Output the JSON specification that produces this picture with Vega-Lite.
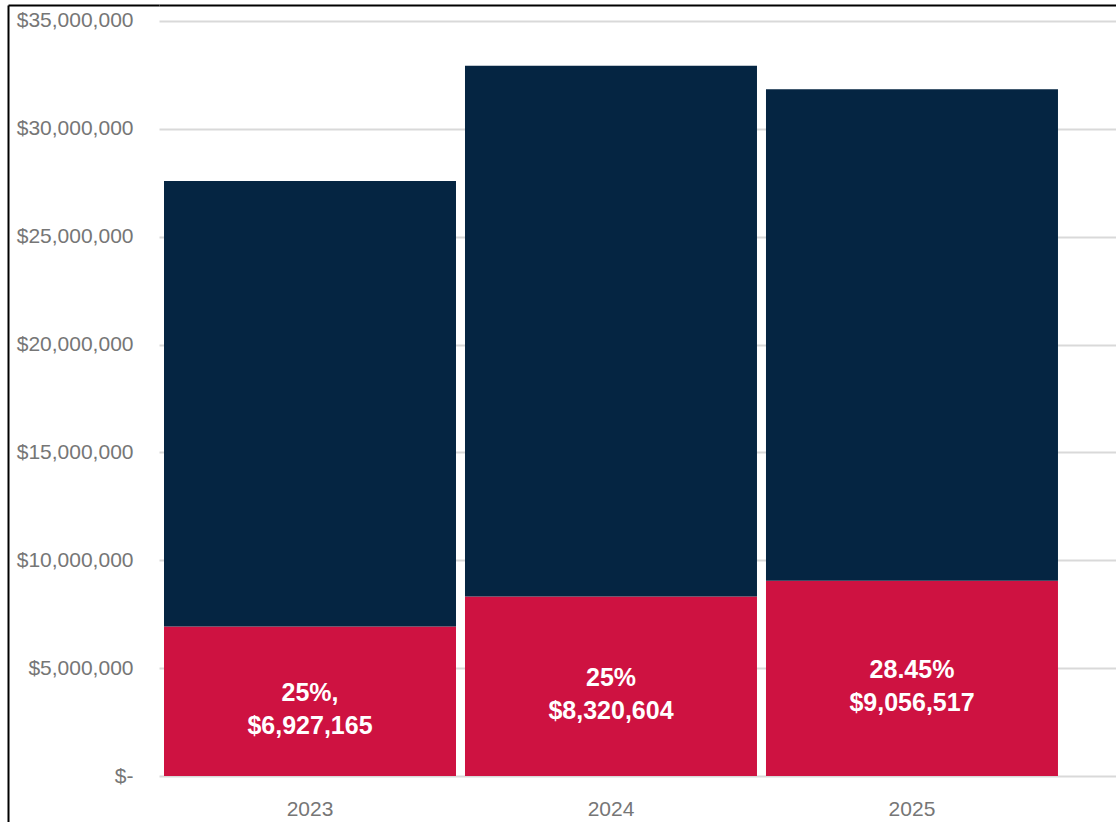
{
  "$schema": "https://vega.github.io/schema/vega-lite/v6.json",
  "width": 957,
  "height": 817,
  "autosize": {"type": "none"},
  "padding": {"left": 159, "top": 5, "right": 0, "bottom": 0},
  "background": "white",
  "config": {"view": {"stroke": null}, "font": "Liberation Sans"},
  "data": {
    "values": [
      {"year": "2023", "segment": "Share", "ord": 1, "value": 6927165, "label": "25%,\n\u00a0\u00a0$6,927,165"},
      {"year": "2023", "segment": "Remainder", "ord": 2, "value": 20652835},
      {"year": "2024", "segment": "Share", "ord": 1, "value": 8320604, "label": "25%\n\u00a0\u00a0\u00a0$8,320,604"},
      {"year": "2024", "segment": "Remainder", "ord": 2, "value": 24609396},
      {"year": "2025", "segment": "Share", "ord": 1, "value": 9056517, "label": "28.45%\n\u00a0\u00a0\u00a0$9,056,517"},
      {"year": "2025", "segment": "Remainder", "ord": 2, "value": 22776483}
    ]
  },
  "resolve": {"axis": {"x": "independent", "y": "independent"}},
  "layer": [
    {
      "mark": {"type": "bar"},
      "encoding": {
        "x": {
          "field": "year", "type": "ordinal",
          "scale": {"type": "band", "paddingInner": 0.0299, "paddingOuter": 0.1047, "align": 0.0794},
          "axis": {"orient": "bottom", "offset": -46, "title": null, "domain": false, "ticks": false, "labelPadding": 22, "labelFontSize": 21, "labelColor": "#767676", "labelAngle": 0, "grid": false}
        },
        "y": {
          "field": "value", "type": "quantitative", "stack": "zero",
          "scale": {"domain": [-2132450, 35741720], "nice": false, "zero": false},
          "axis": {
            "orient": "left", "title": null, "domain": false, "ticks": false, "tickSize": 0,
            "values": [0, 5000000, 10000000, 15000000, 20000000, 25000000, 30000000, 35000000],
            "labelExpr": "datum.value === 0 ? '$-' : '$' + format(datum.value, ',')",
            "labelPadding": 26, "labelFontSize": 21, "labelColor": "#767676", "labelFlush": false,
            "grid": true, "gridColor": "#d9d9d9", "gridWidth": 2
          }
        },
        "color": {
          "field": "segment", "type": "nominal",
          "scale": {"domain": ["Share", "Remainder"], "range": ["#CE1241", "#052542"]},
          "legend": null
        },
        "order": {"field": "ord", "type": "quantitative"}
      }
    },
    {
      "transform": [
        {"filter": "datum.segment === 'Share'"},
        {"calculate": "datum.value / 2", "as": "mid"}
      ],
      "mark": {"type": "text", "color": "white", "fontWeight": "bold", "fontSize": 25, "lineBreak": "\n", "lineHeight": 33, "baseline": "middle", "align": "center", "dy": -8},
      "encoding": {
        "x": {
          "field": "year", "type": "ordinal",
          "scale": {"type": "band", "paddingInner": 0.0299, "paddingOuter": 0.1047, "align": 0.0794},
          "axis": null
        },
        "y": {
          "field": "mid", "type": "quantitative",
          "scale": {"domain": [-2132450, 35741720], "nice": false, "zero": false},
          "axis": null
        },
        "text": {"field": "label", "type": "nominal"}
      }
    },
    {
      "mark": {"type": "point", "opacity": 0},
      "encoding": {
        "x": {
          "field": "year", "type": "ordinal",
          "scale": {"type": "band", "paddingInner": 0.0299, "paddingOuter": 0.1047, "align": 0.0794},
          "axis": {"orient": "top", "title": null, "labels": false, "ticks": false, "grid": false, "domain": true, "domainColor": "#000000", "domainWidth": 2}
        },
        "y": {
          "field": "value", "type": "quantitative", "stack": null,
          "scale": {"domain": [-2132450, 35741720], "nice": false, "zero": false},
          "axis": {"orient": "left", "offset": 151, "title": null, "labels": false, "ticks": false, "grid": false, "domain": true, "domainColor": "#000000", "domainWidth": 2}
        }
      }
    },
    {
      "mark": {"type": "point", "opacity": 0},
      "encoding": {
        "x": {
          "field": "year", "type": "ordinal",
          "scale": {"type": "band", "paddingInner": 0.0299, "paddingOuter": 0.1047, "align": 0.0794},
          "axis": null
        },
        "y": {
          "field": "value", "type": "quantitative", "stack": null,
          "scale": {"domain": [-2132450, 35741720], "nice": false, "zero": false},
          "axis": {"orient": "left", "offset": 0, "title": null, "labels": false, "ticks": true, "tickSize": 151, "tickColor": "#000000", "tickWidth": 2, "values": [35741720], "grid": false, "domain": false}
        }
      }
    }
  ]
}
